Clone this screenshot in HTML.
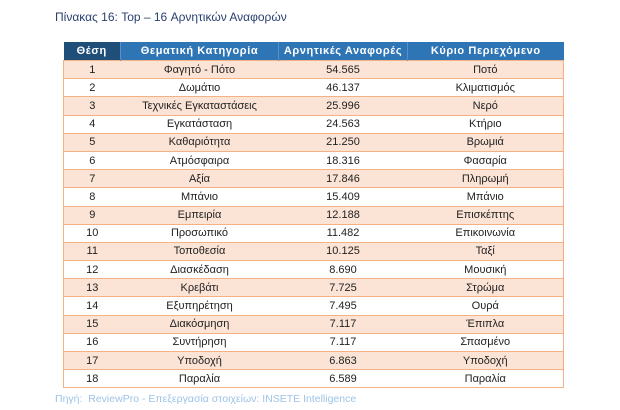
<!DOCTYPE html>
<html><head><meta charset="utf-8"><style>
body{margin:0;width:620px;height:410px;background:#fff;font-family:"Liberation Sans","DejaVu Sans",sans-serif;position:relative;overflow:hidden}
.t{position:absolute;left:55px;top:10px;font-size:12px;color:#2a3f6e}
table{position:absolute;left:63px;top:42px;width:500px;table-layout:fixed;border-collapse:collapse;font-size:11px;color:#222}
th{background:#2e75b6;color:#fff;font-weight:bold;height:18px;padding:0;border-left:1px solid #5b8fc9;letter-spacing:0.6px;white-space:nowrap;overflow:hidden}
th:first-child{background:#1f4e79;border-left:none}
td{height:17.2px;padding:0;text-align:center;border-top:1px solid #f4b183;white-space:nowrap}
tr:nth-child(odd) td{background:#fbe3d6}
tbody{border:1.5px solid #f4b183}
.f{position:absolute;left:55px;top:393px;font-size:10.5px;color:#9dc3e6}
</style></head><body>
<div class="t">Πίνακας 16: Top – 16 Αρνητικών Αναφορών</div>
<table>
<colgroup><col style="width:57px"><col style="width:158px"><col style="width:129px"><col style="width:156px"></colgroup>
<thead><tr><th>Θέση</th><th>Θεματική Κατηγορία</th><th>Αρνητικές Αναφορές</th><th>Κύριο Περιεχόμενο</th></tr></thead>
<tbody>
<tr><td>1</td><td>Φαγητό - Πότο</td><td>54.565</td><td>Ποτό</td></tr>
<tr><td>2</td><td>Δωμάτιο</td><td>46.137</td><td>Κλιματισμός</td></tr>
<tr><td>3</td><td>Τεχνικές Εγκαταστάσεις</td><td>25.996</td><td>Νερό</td></tr>
<tr><td>4</td><td>Εγκατάσταση</td><td>24.563</td><td>Κτήριο</td></tr>
<tr><td>5</td><td>Καθαριότητα</td><td>21.250</td><td>Βρωμιά</td></tr>
<tr><td>6</td><td>Ατμόσφαιρα</td><td>18.316</td><td>Φασαρία</td></tr>
<tr><td>7</td><td>Αξία</td><td>17.846</td><td>Πληρωμή</td></tr>
<tr><td>8</td><td>Μπάνιο</td><td>15.409</td><td>Μπάνιο</td></tr>
<tr><td>9</td><td>Εμπειρία</td><td>12.188</td><td>Επισκέπτης</td></tr>
<tr><td>10</td><td>Προσωπικό</td><td>11.482</td><td>Επικοινωνία</td></tr>
<tr><td>11</td><td>Τοποθεσία</td><td>10.125</td><td>Ταξί</td></tr>
<tr><td>12</td><td>Διασκέδαση</td><td>8.690</td><td>Μουσική</td></tr>
<tr><td>13</td><td>Κρεβάτι</td><td>7.725</td><td>Στρώμα</td></tr>
<tr><td>14</td><td>Εξυπηρέτηση</td><td>7.495</td><td>Ουρά</td></tr>
<tr><td>15</td><td>Διακόσμηση</td><td>7.117</td><td>Έπιπλα</td></tr>
<tr><td>16</td><td>Συντήρηση</td><td>7.117</td><td>Σπασμένο</td></tr>
<tr><td>17</td><td>Υποδοχή</td><td>6.863</td><td>Υποδοχή</td></tr>
<tr><td>18</td><td>Παραλία</td><td>6.589</td><td>Παραλία</td></tr>
</tbody></table>
<div class="f">Πηγή:&nbsp; ReviewPro - Επεξεργασία στοιχείων: INSETE Intelligence</div>
</body></html>
